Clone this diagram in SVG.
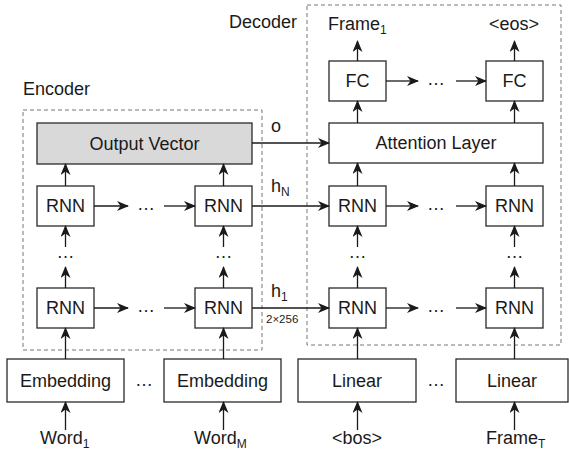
<svg xmlns="http://www.w3.org/2000/svg" width="569" height="450" viewBox="0 0 569 450">
<style>
  text { font-family: "Liberation Sans", Arial, sans-serif; fill: #1a1a1a; }
  .lbl { font-size: 18px; text-anchor: middle; }
  .t { font-size: 18px; }
  .sub { font-size: 12px; }
  .small { font-size: 11.5px; }
  .box { fill: #ffffff; stroke: #2a2a2a; stroke-width: 1.3; }
  .gray { fill: #d9d9d9; }
  .dash { fill: none; stroke: #777; stroke-width: 1; stroke-dasharray: 4 3; }
  .c { fill: none; stroke: #1a1a1a; stroke-width: 1.3; marker-end: url(#ah); }
</style>
<defs>
  <marker id="ah" viewBox="0 0 12 10" refX="11" refY="5" markerWidth="12" markerHeight="10" markerUnits="userSpaceOnUse" orient="auto">
    <path d="M0,0 L12,5 L0,10 L3.5,5 z" fill="#1a1a1a"/>
  </marker>
</defs>
<rect width="569" height="450" fill="#ffffff"/>

<g id="encoder-frame">
  <rect class="dash" x="23" y="110" width="239" height="240"/>
  <text class="t" x="23" y="95">Encoder</text>
</g>
<g id="decoder-frame">
  <rect class="dash" x="307" y="5" width="254" height="340"/>
  <text class="t" x="229" y="28">Decoder</text>
</g>

<g id="output-vector"><rect class="box gray" x="37" y="123" width="215" height="41"/><text class="lbl" x="144.5" y="150">Output Vector</text></g>
<g id="enc-rnn-top-1"><rect class="box" x="37" y="186" width="57" height="40"/><text class="lbl" x="65.5" y="212">RNN</text></g>
<g id="enc-rnn-top-m"><rect class="box" x="195" y="186" width="57" height="40"/><text class="lbl" x="223.5" y="212">RNN</text></g>
<g id="enc-rnn-bot-1"><rect class="box" x="37" y="288" width="57" height="40"/><text class="lbl" x="65.5" y="314">RNN</text></g>
<g id="enc-rnn-bot-m"><rect class="box" x="195" y="288" width="57" height="40"/><text class="lbl" x="223.5" y="314">RNN</text></g>
<g id="embedding-1"><rect class="box" x="7" y="359" width="117" height="43"/><text class="lbl" x="65.5" y="387">Embedding</text></g>
<g id="embedding-m"><rect class="box" x="164" y="359" width="117" height="43"/><text class="lbl" x="222.5" y="387">Embedding</text></g>

<g id="fc-1"><rect class="box" x="329" y="61" width="57" height="40"/><text class="lbl" x="357.5" y="87">FC</text></g>
<g id="fc-t"><rect class="box" x="486" y="61" width="57" height="40"/><text class="lbl" x="514.5" y="87">FC</text></g>
<g id="attention"><rect class="box" x="329" y="123" width="214" height="40"/><text class="lbl" x="436" y="149">Attention Layer</text></g>
<g id="dec-rnn-top-1"><rect class="box" x="329" y="186" width="57" height="40"/><text class="lbl" x="357.5" y="212">RNN</text></g>
<g id="dec-rnn-top-t"><rect class="box" x="486" y="186" width="57" height="40"/><text class="lbl" x="514.5" y="212">RNN</text></g>
<g id="dec-rnn-bot-1"><rect class="box" x="329" y="288" width="57" height="40"/><text class="lbl" x="357.5" y="314">RNN</text></g>
<g id="dec-rnn-bot-t"><rect class="box" x="486" y="288" width="57" height="40"/><text class="lbl" x="514.5" y="314">RNN</text></g>
<g id="linear-1"><rect class="box" x="298" y="359" width="118" height="43"/><text class="lbl" x="357" y="387">Linear</text></g>
<g id="linear-t"><rect class="box" x="456" y="359" width="112" height="43"/><text class="lbl" x="512" y="387">Linear</text></g>

<g id="labels">
  <text class="t" x="40" y="444">Word<tspan class="sub" dy="4">1</tspan></text>
  <text class="t" x="194" y="444">Word<tspan class="sub" dy="4">M</tspan></text>
  <text class="lbl" x="357" y="444">&lt;bos&gt;</text>
  <text class="t" x="486" y="444">Frame<tspan class="sub" dy="4">T</tspan></text>
  <text class="t" x="328" y="30">Frame<tspan class="sub" dy="4">1</tspan></text>
  <text class="lbl" x="514" y="30">&lt;eos&gt;</text>
  <text class="t" x="271" y="132">o</text>
  <text class="t" x="271" y="192">h<tspan class="sub" dy="4">N</tspan></text>
  <text class="t" x="271" y="297">h<tspan class="sub" dy="4">1</tspan></text>
  <text class="small" x="266" y="323">2×256</text>
  <text class="lbl" x="65.5" y="258">…</text>
  <text class="lbl" x="223.5" y="258">…</text>
  <text class="lbl" x="357.5" y="258">…</text>
  <text class="lbl" x="514.5" y="258">…</text>
  <text class="lbl" x="146" y="210">…</text>
  <text class="lbl" x="146" y="312">…</text>
  <text class="lbl" x="436" y="85">…</text>
  <text class="lbl" x="436" y="210">…</text>
  <text class="lbl" x="436" y="312">…</text>
  <text class="lbl" x="144" y="386">…</text>
  <text class="lbl" x="436" y="386">…</text>
</g>

<g id="connectors">
  <path class="c" d="M65.5,430 V402"/>
  <path class="c" d="M223.5,430 V402"/>
  <path class="c" d="M357.5,430 V402"/>
  <path class="c" d="M514.5,430 V402"/>
  <path class="c" d="M65.5,359 V328"/>
  <path class="c" d="M223.5,359 V328"/>
  <path class="c" d="M357.5,359 V328"/>
  <path class="c" d="M514.5,359 V328"/>
  <path class="c" d="M65.5,288 V267"/>
  <path class="c" d="M223.5,288 V267"/>
  <path class="c" d="M357.5,288 V267"/>
  <path class="c" d="M514.5,288 V267"/>
  <path class="c" d="M65.5,247 V226"/>
  <path class="c" d="M223.5,247 V226"/>
  <path class="c" d="M357.5,247 V226"/>
  <path class="c" d="M514.5,247 V226"/>
  <path class="c" d="M65.5,186 V164"/>
  <path class="c" d="M223.5,186 V164"/>
  <path class="c" d="M357.5,186 V163"/>
  <path class="c" d="M514.5,186 V163"/>
  <path class="c" d="M357.5,123 V101"/>
  <path class="c" d="M514.5,123 V101"/>
  <path class="c" d="M357.5,61 V41"/>
  <path class="c" d="M514.5,61 V41"/>
  <path class="c" d="M94,206 H128"/>
  <path class="c" d="M164,206 H195"/>
  <path class="c" d="M94,308 H128"/>
  <path class="c" d="M164,308 H195"/>
  <path class="c" d="M386,81 H418"/>
  <path class="c" d="M456,81 H486"/>
  <path class="c" d="M386,206 H418"/>
  <path class="c" d="M456,206 H486"/>
  <path class="c" d="M386,308 H418"/>
  <path class="c" d="M456,308 H486"/>
  <path class="c" d="M252,143 H329"/>
  <path class="c" d="M252,206 H329"/>
  <path class="c" d="M252,308 H329"/>
</g>
</svg>
